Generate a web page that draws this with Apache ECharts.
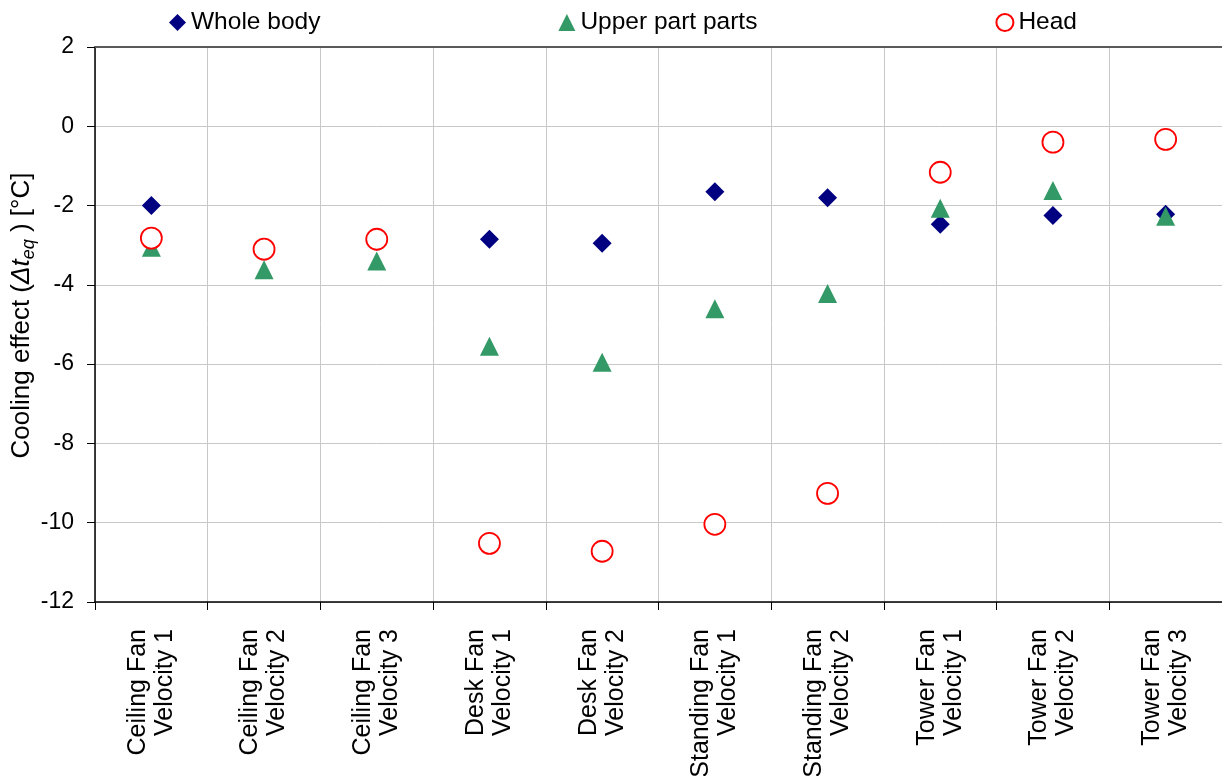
<!DOCTYPE html>
<html>
<head>
<meta charset="utf-8">
<script src="https://cdn.jsdelivr.net/npm/echarts@6/dist/echarts.min.js"></script>
<style>
  html, body { margin: 0; padding: 0; background: #fff; }
  #chart { width: 1222px; height: 776px; }
</style>
</head>
<body>
<div id="chart"></div>
<script>
// Fan configurations (x categories)
const categories = [
  'Ceiling Fan\nVelocity 1', 'Ceiling Fan\nVelocity 2', 'Ceiling Fan\nVelocity 3',
  'Desk Fan\nVelocity 1', 'Desk Fan\nVelocity 2',
  'Standing Fan\nVelocity 1', 'Standing Fan\nVelocity 2',
  'Tower Fan\nVelocity 1', 'Tower Fan\nVelocity 2', 'Tower Fan\nVelocity 3'
];

// Cooling effect Δt_eq [°C]
const wholeBody = [-2.0, -3.15, -2.9, -2.85, -2.95, -1.65, -1.8, -2.47, -2.25, -2.22];
const upperParts = [-3.05, -3.62, -3.4, -5.55, -5.95, -4.6, -4.22, -2.07, -1.62, -2.27];
const head = [-2.82, -3.1, -2.85, -10.52, -10.72, -10.04, -9.26, -1.16, -0.4, -0.33];

const yTicks = { min: -12, max: 2, interval: 2 };

const FONT = '"Liberation Sans", Arial, sans-serif';

const chart = echarts.init(document.getElementById('chart'));

chart.setOption({
  animation: false,
  backgroundColor: '#ffffff',
  textStyle: { fontFamily: FONT, color: '#000' },
  legend: {
    top: 5,
    left: 164,
    itemGap: 238,
    itemWidth: 17,
    itemHeight: 17,
    textStyle: { fontSize: 24.5, color: '#000', fontFamily: FONT },
    data: ['Whole body', 'Upper part parts', 'Head']
  },
  grid: {
    left: 95, right: 0, top: 47, bottom: 174,
    containLabel: false,
    outerBoundsMode: 'none'
  },
  xAxis: [
    {
      type: 'category',
      data: categories,
      boundaryGap: true,
      axisLine: { onZero: false, lineStyle: { color: '#000', width: 1.5 } },
      axisTick: { show: true, length: 8, lineStyle: { color: '#000' } },
      splitLine: { show: true, lineStyle: { color: '#c8c8c8', width: 1 } },
      axisLabel: {
        rotate: 90,
        margin: 27,
        fontSize: 25,
        lineHeight: 27,
        color: '#000',
        fontFamily: FONT,
        interval: 0
      }
    },
    {
      type: 'category',
      data: categories,
      position: 'top',
      axisLine: { show: true, onZero: false, lineStyle: { color: '#5a5a5a', width: 2 } },
      axisTick: { show: false },
      axisLabel: { show: false },
      splitLine: { show: false }
    }
  ],
  yAxis: {
    type: 'value',
    min: yTicks.min,
    max: yTicks.max,
    interval: yTicks.interval,
    axisLine: { show: true, onZero: false, lineStyle: { color: '#000', width: 1.5 } },
    axisTick: { show: true, length: 8, lineStyle: { color: '#000' } },
    splitLine: { show: true, lineStyle: { color: '#c8c8c8', width: 1 } },
    axisLabel: { fontSize: 23, color: '#000', margin: 21, fontFamily: FONT },
    name: '{n|Cooling effect (}{i|Δt}{s|eq}{n| ) [°C]}',
    nameLocation: 'middle',
    nameGap: 57,
    nameMoveOverlap: false,
    nameTextStyle: {
      padding: [0, 0, 0, 18],
      rich: {
        n: { fontSize: 26, color: '#000', fontFamily: FONT, lineHeight: 32, verticalAlign: 'middle' },
        i: { fontSize: 26, color: '#000', fontFamily: FONT, fontStyle: 'italic', lineHeight: 32, verticalAlign: 'middle' },
        s: { fontSize: 18, color: '#000', fontFamily: FONT, fontStyle: 'italic', padding: [13, 0, 0, 0], verticalAlign: 'middle' }
      }
    }
  },
  series: [
    {
      name: 'Whole body',
      type: 'scatter',
      symbol: 'diamond',
      symbolSize: 19,
      itemStyle: { color: '#000080', opacity: 1 },
      data: wholeBody,
      z: 2
    },
    {
      name: 'Upper part parts',
      type: 'scatter',
      symbol: 'triangle',
      symbolSize: 19,
      itemStyle: { color: '#339966', opacity: 1 },
      data: upperParts,
      z: 3
    },
    {
      name: 'Head',
      type: 'scatter',
      symbol: 'circle',
      symbolSize: 21,
      itemStyle: { color: '#ffffff', borderColor: '#ff0000', borderWidth: 1.8, opacity: 1 },
      data: head,
      z: 4
    }
  ]
});
</script>
</body>
</html>
